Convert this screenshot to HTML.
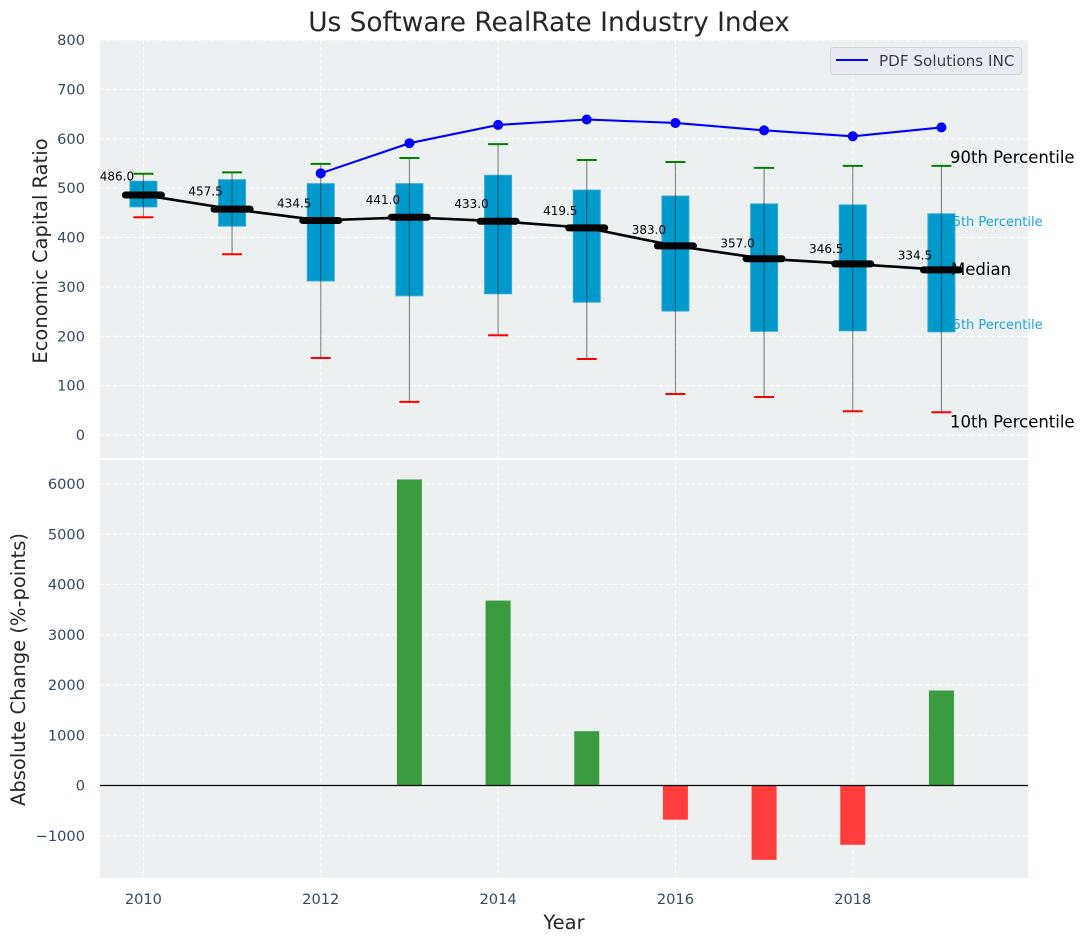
<!DOCTYPE html>
<html lang="en">
<head>
<meta charset="utf-8">
<title>Us Software RealRate Industry Index</title>
<style>
html,body{margin:0;padding:0;background:#fff;width:1085px;height:942px;overflow:hidden}
svg{display:block;font-family:"DejaVu Sans","Liberation Sans",sans-serif}
</style>
</head>
<body>
<svg id="chart" width="1085" height="942" viewBox="0 0 1085 942" xmlns="http://www.w3.org/2000/svg">
  <rect x="0" y="0" width="1085" height="942" fill="#ffffff"/>
  <rect x="100" y="40" width="928" height="418" fill="#ecf0f1"/>
  <rect x="100" y="460" width="928" height="418" fill="#ecf0f1"/>
  <g id="grid"></g>
  <g id="annotations"></g>
  <g id="boxes"></g>
  <g id="medians"></g>
  <g id="company"></g>
  <g id="bars"></g>
  <g id="ticks"></g>
  <line x1="100" x2="1028" y1="785.5" y2="785.5" stroke="#000000" stroke-width="1.2"/>
  <text x="549" y="31" text-anchor="middle" font-size="26.4" fill="#262626">Us Software RealRate Industry Index</text>
  <text transform="translate(47,251) rotate(-90)" text-anchor="middle" font-size="19.5" fill="#262626">Economic Capital Ratio</text>
  <text transform="translate(25,669.5) rotate(-90)" text-anchor="middle" font-size="19.5" fill="#262626">Absolute Change (%-points)</text>
  <text x="564" y="929" text-anchor="middle" font-size="19.5" fill="#262626">Year</text>
  <g>
    <rect x="830.5" y="47.5" width="191" height="27" rx="3" fill="#eaeaf2" stroke="#d4d4d8"/>
    <line x1="836" x2="868" y1="60" y2="60" stroke="#0000ff" stroke-width="2"/>
    <text x="879" y="66" font-size="15.2" fill="#333f4c">PDF Solutions INC</text>
  </g>
</svg>
<script>
const years = [2010, 2011, 2012, 2013, 2014, 2015, 2016, 2017, 2018, 2019];
const p90 = [529, 532, 549, 561, 589, 557, 553, 541, 545, 545];
const p75 = [514, 517, 509, 509, 526, 496, 484, 468, 466, 448];
const median = [486.0, 457.5, 434.5, 441.0, 433.0, 419.5, 383.0, 357.0, 346.5, 334.5];
const p25 = [462, 423, 312, 282, 286, 269, 251, 210, 211, 209];
const p10 = [441, 366, 156, 67, 202, 154, 83, 77, 48, 46];
const companyYears = [2012, 2013, 2014, 2015, 2016, 2017, 2018, 2019];
const companyValues = [530, 591, 628, 639, 632, 617, 605, 623];
const changeYears = [2013, 2014, 2015, 2016, 2017, 2018, 2019];
const changeValues = [6090, 3680, 1080, -680, -1480, -1180, 1890];
const xTicks = [2010, 2012, 2014, 2016, 2018];
const upperTicks = [0, 100, 200, 300, 400, 500, 600, 700, 800];
const lowerTicks = [-1000, 0, 1000, 2000, 3000, 4000, 5000, 6000];

const NS = 'http://www.w3.org/2000/svg';
const X = function (year) { return 143.4 + (year - 2010) * 88.67; };
const YU = function (v) { return 435 - v * 0.49375; };
const YL = function (v) { return 785.5 - v * 0.05025; };

function make(parent, tag, props, content) {
  const el = document.createElementNS(NS, tag);
  for (const k in props) el.setAttribute(k, props[k]);
  if (content !== undefined) el.textContent = content;
  parent.appendChild(el);
  return el;
}
const gGrid = document.getElementById('grid');
const gAnn = document.getElementById('annotations');
const gBoxes = document.getElementById('boxes');
const gMed = document.getElementById('medians');
const gCo = document.getElementById('company');
const gBars = document.getElementById('bars');
const gTicks = document.getElementById('ticks');
const dash = {stroke: '#ffffff', 'stroke-width': 1, 'stroke-dasharray': '4 2.5', opacity: 0.9};

xTicks.forEach(function (t) {
  const a = make(gGrid, 'line', Object.assign({x1: X(t), x2: X(t), y1: 40, y2: 458}, dash));
  
  
  const b = make(gGrid, 'line', Object.assign({x1: X(t), x2: X(t), y1: 460, y2: 878}, dash));
  
  
  const l = make(gTicks, 'text', {x: X(t), y: 904, 'text-anchor': 'middle', 'font-size': 14.6, fill: '#34495e'}, String(t));
  
  
});
upperTicks.forEach(function (t) {
  const a = make(gGrid, 'line', Object.assign({x1: 100, x2: 1028, y1: YU(t), y2: YU(t)}, dash));
  
  
  const l = make(gTicks, 'text', {x: 85, y: YU(t) + 5, 'text-anchor': 'end', 'font-size': 14.6, fill: '#34495e'}, String(t));
  
  
});
lowerTicks.forEach(function (t) {
  const a = make(gGrid, 'line', Object.assign({x1: 100, x2: 1028, y1: YL(t), y2: YL(t)}, dash));
  
  
  const l = make(gTicks, 'text', {x: 85, y: YL(t) + 5, 'text-anchor': 'end', 'font-size': 14.6, fill: '#34495e'}, String(t).replace('-', '\u2212'));
  
  
});

const last = years.length - 1;
const tx = X(years[last]);
const a90 = make(gAnn, 'text', {x: tx + 8.6, y: YU(p90[last]) - 3, 'font-size': 16.5, fill: '#000000'}, '90th Percentile');


const a75 = make(gAnn, 'text', {x: tx + 3, y: YU(p75[last]) + 12, 'font-size': 13, fill: '#1ca6d3'}, '75th Percentile');


const a25 = make(gAnn, 'text', {x: tx + 3, y: YU(p25[last]) - 3, 'font-size': 13, fill: '#1ca6d3'}, '25th Percentile');


const a10 = make(gAnn, 'text', {x: tx + 8.6, y: YU(p10[last]) + 15, 'font-size': 16.5, fill: '#000000'}, '10th Percentile');



years.forEach(function (y, i) {
  const cx = X(y);
  const box = make(gBoxes, 'rect', {x: cx - 13.5, y: YU(p75[i]), width: 27, height: YU(p25[i]) - YU(p75[i]), fill: '#0099cc', stroke: '#33aad6', 'stroke-width': 1});
  
  
  const w = make(gBoxes, 'line', {x1: cx, x2: cx, y1: YU(p90[i]), y2: YU(p10[i]), stroke: '#222222', 'stroke-opacity': 0.5, 'stroke-width': 1.2});
  
  
  const capHi = make(gBoxes, 'line', {x1: cx - 10, x2: cx + 10, y1: YU(p90[i]), y2: YU(p90[i]), stroke: '#008000', 'stroke-width': 2});
  
  
  const capLo = make(gBoxes, 'line', {x1: cx - 10, x2: cx + 10, y1: YU(p10[i]), y2: YU(p10[i]), stroke: '#ff0000', 'stroke-width': 2});
  
  
});

const aMed = make(gMed, 'text', {x: tx + 9.6, y: YU(median[last]) + 5, 'font-size': 16.5, fill: '#000000'}, 'Median');


const medLine = make(gMed, 'polyline', {points: years.map(function (y, i) { return X(y) + ',' + YU(median[i]); }).join(' '), fill: 'none', stroke: '#000000', 'stroke-width': 2.6});


years.forEach(function (y, i) {
  const cx = X(y);
  const my = YU(median[i]);
  const m = make(gMed, 'line', {x1: cx - 18, x2: cx + 18, y1: my, y2: my, stroke: '#000000', 'stroke-width': 7, 'stroke-linecap': 'round'});
  
  
  const t = make(gMed, 'text', {x: cx - 26.5, y: my - (1.67 + 0.0264 * median[i]), 'text-anchor': 'middle', 'font-size': 12, fill: '#000000'}, median[i].toFixed(1));
  
  
});

const coLine = make(gCo, 'polyline', {points: companyYears.map(function (y, i) { return X(y) + ',' + YU(companyValues[i]); }).join(' '), fill: 'none', stroke: '#0000ff', 'stroke-width': 2.1});


companyYears.forEach(function (y, i) {
  const p = make(gCo, 'circle', {cx: X(y), cy: YU(companyValues[i]), r: 5, fill: '#0000ff'});
  
  
});

changeYears.forEach(function (y, i) {
  const v = changeValues[i];
  const top = Math.min(YL(v), YL(0));
  const h = Math.abs(YL(v) - YL(0));
  const b = make(gBars, 'rect', {x: X(y) - 12.5, y: top, width: 25, height: h, fill: v >= 0 ? '#3b9b3f' : '#ff3d3d'});
  
  
});
</script>
</body>
</html>
